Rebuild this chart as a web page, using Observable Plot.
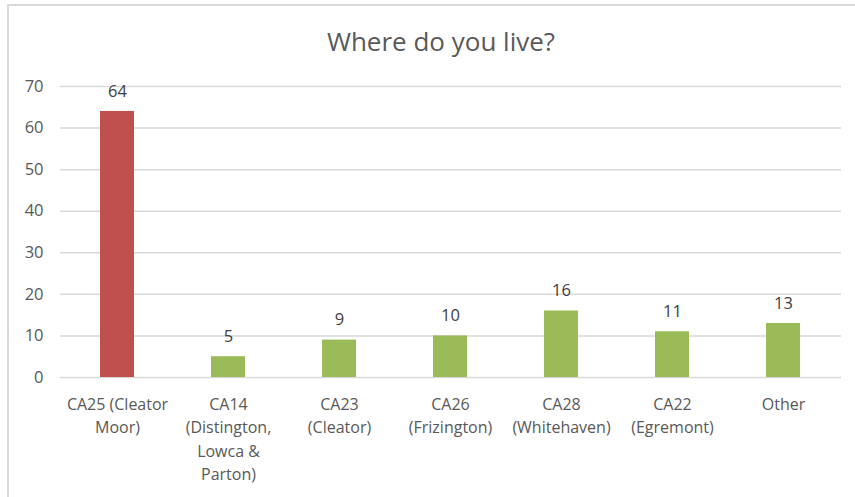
<!DOCTYPE html>
<html>
<head>
<meta charset="utf-8">
<script src="https://cdn.jsdelivr.net/npm/d3@7"></script>
<script src="https://cdn.jsdelivr.net/npm/@observablehq/plot@0.6"></script>
<style>
  html, body { margin: 0; padding: 0; background: #fff; }
  #wrap { position: relative; width: 855px; height: 497px; overflow: hidden; font-family: "Open Sans", sans-serif; }
  #frame { position: absolute; left: 7px; top: 4px; width: 900px; height: 600px; border: 2px solid #d9d9d9; box-sizing: border-box; }
  #title { position: absolute; left: 0; width: 882px; top: 28px; text-align: center; font-size: 26px; line-height: 26px; color: #595959; white-space: nowrap; }
  #chart { position: absolute; left: 0; top: 70px; }
</style>
</head>
<body>
<div id="wrap">
  <div id="frame"></div>
  <div id="title">Where do you live?</div>
  <div id="chart"></div>
</div>
<script>
const categories = [
  "CA25 (Cleator\nMoor)",
  "CA14\n(Distington,\nLowca &\nParton)",
  "CA23\n(Cleator)",
  "CA26\n(Frizington)",
  "CA28\n(Whitehaven)",
  "CA22\n(Egremont)",
  "Other"
];
const values = [64, 5, 9, 10, 16, 11, 13];
const colors = ["#C0504D", "#9BBB59", "#9BBB59", "#9BBB59", "#9BBB59", "#9BBB59", "#9BBB59"];
const yTicks = [0, 10, 20, 30, 40, 50, 60, 70];

const data = categories.map((c, i) => ({category: c, value: values[i], color: colors[i]}));

const chart = Plot.plot({
  width: 855,
  height: 427,
  marginLeft: 60,
  marginRight: 14,
  marginTop: 16,
  marginBottom: 120,
  style: {fontFamily: "'Open Sans', sans-serif", fontSize: "16px", color: "#595959", background: "transparent"},
  x: {domain: categories, paddingInner: 0.69, paddingOuter: 0.345, label: null},
  y: {domain: [0, 70], label: null},
  marks: [
    Plot.gridY(yTicks, {stroke: "#d9d9d9", strokeOpacity: 1, strokeWidth: 1.5}),
    Plot.axisY({ticks: yTicks, tickSize: 0, tickPadding: 17, label: null, fill: "#595959", fontSize: 16.5}),
    Plot.axisX({tickSize: 0, tickPadding: 16, label: null, fill: "#595959", fontSize: 16, lineHeight: 1.46, textOverflow: null}),
    Plot.barY(data, {x: "category", y: "value", fill: "color"}),
    Plot.text(data, {x: "category", y: "value", text: d => String(d.value), dy: -20, fill: "#404040", fontSize: 16.5})
  ]
});
document.getElementById("chart").appendChild(chart);
</script>
</body>
</html>
